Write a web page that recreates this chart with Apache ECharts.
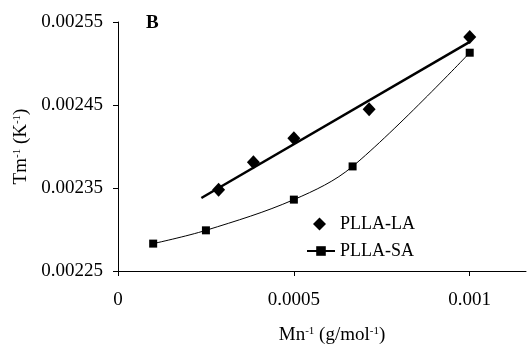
<!DOCTYPE html>
<html>
<head>
<meta charset="utf-8">
<script src="https://cdn.jsdelivr.net/npm/echarts@6/dist/echarts.min.js"></script>
<style>
  html, body { margin: 0; padding: 0; background: #fff; }
  #chart { width: 527px; height: 346px; }
</style>
</head>
<body>
<div id="chart"></div>
<script>
// PLLA-LA (diamonds) and fitted straight line
const laX = [0.000286, 0.000385, 0.0005, 0.000714, 0.001];
const laY = [0.002348, 0.002381, 0.00241, 0.002445, 0.002532];
const laFitX = [0.000237, 0.001];
const laFitY = [0.002338, 0.002526];

// PLLA-SA (squares, smoothed line)
const saX = [0.0001, 0.00025, 0.0005, 0.000667, 0.001];
const saY = [0.002283, 0.002299, 0.002336, 0.002376, 0.002513];

const xTicks = [0, 0.0005, 0.001];
const yTicks = [0.00225, 0.00235, 0.00245, 0.00255];

const font = 'Liberation Serif';
const chart = echarts.init(document.getElementById('chart'), null, { renderer: 'canvas' });

const pairs = (xs, ys) => xs.map((x, i) => [x, ys[i]]);

chart.setOption({
  backgroundColor: '#fff',
  animation: false,
  textStyle: { fontFamily: font, color: '#000' },
  grid: { left: 118, right: 1, top: 22, bottom: 75, outerBoundsMode: 'none' },
  legend: [
    {
      left: 308, top: 210,
      itemWidth: 13, itemHeight: 13,
      textStyle: { fontFamily: font, fontSize: 18, color: '#000', padding: [0, 0, 0, 9] },
      data: [{ name: 'PLLA-LA', icon: 'diamond' }]
    },
    {
      left: 301, top: 237,
      itemWidth: 28, itemHeight: 12,
      textStyle: { fontFamily: font, fontSize: 18, color: '#000' },
      data: [{ name: 'PLLA-SA' }]
    }
  ],
  xAxis: {
    type: 'value',
    min: 0,
    max: 0.00116,
    splitLine: { show: false },
    axisLine: { onZero: false, lineStyle: { color: '#000', width: 1 } },
    axisTick: { customValues: xTicks, length: 5, lineStyle: { color: '#000' } },
    axisLabel: {
      customValues: xTicks,
      fontFamily: font, fontSize: 19, color: '#000', margin: 20,
      formatter: v => String(v)
    },
    name: '{t|Mn}{s|-1}{t| (g/mol}{s|-1}{t|)}',
    nameLocation: 'middle',
    nameGap: 55,
    nameTextStyle: {
      padding: [0, 0, 0, 20],
      rich: {
        t: { fontFamily: font, fontSize: 19, color: '#000' },
        s: { fontFamily: font, fontSize: 11, color: '#000', verticalAlign: 'top', padding: [0, 0, 8, 0] }
      }
    }
  },
  yAxis: {
    type: 'value',
    min: 0.00225,
    max: 0.00255,
    splitLine: { show: false },
    axisLine: { onZero: false, lineStyle: { color: '#000', width: 1 } },
    axisTick: { customValues: yTicks, length: 5, lineStyle: { color: '#000' } },
    axisLabel: {
      customValues: yTicks,
      fontFamily: font, fontSize: 19, color: '#000', margin: 15,
      formatter: v => v.toFixed(5)
    },
    name: '{t|Tm}{s|-1}{t| (K}{s|-1}{t|)}',
    nameLocation: 'middle',
    nameGap: 81,
    nameTextStyle: {
      rich: {
        t: { fontFamily: font, fontSize: 19, color: '#000' },
        s: { fontFamily: font, fontSize: 11, color: '#000', verticalAlign: 'top', padding: [0, 0, 8, 0] }
      }
    }
  },
  graphic: [{
    type: 'text',
    left: 146,
    top: 14,
    style: { text: 'B', fontFamily: font, fontSize: 19, fontWeight: 'bold', fill: '#000' }
  }],
  series: [
    {
      name: 'PLLA-LA fit',
      type: 'line',
      data: pairs(laFitX, laFitY),
      symbol: 'none',
      lineStyle: { color: '#000', width: 2.5 },
      silent: true
    },
    {
      name: 'PLLA-LA',
      type: 'scatter',
      data: pairs(laX, laY),
      symbol: 'diamond',
      symbolSize: [13, 14],
      itemStyle: { color: '#000', opacity: 1 }
    },
    {
      name: 'PLLA-SA',
      type: 'line',
      data: pairs(saX, saY),
      smooth: 0.35,
      symbol: 'rect',
      symbolSize: 8,
      showSymbol: true,
      lineStyle: { color: '#000', width: 1 },
      itemStyle: { color: '#000' }
    }
  ]
});
</script>
</body>
</html>
